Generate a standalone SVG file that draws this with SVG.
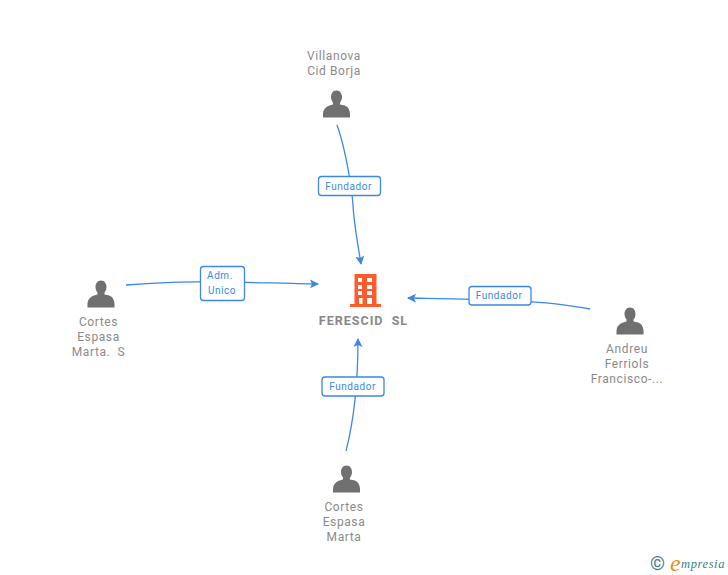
<svg xmlns="http://www.w3.org/2000/svg" width="728" height="575" viewBox="0 0 728 575">
<style>
text{font-family:Roboto,"Liberation Sans",sans-serif}
.n{font-size:12px;fill:#8a8a8a;text-anchor:middle;letter-spacing:.6px;white-space:pre}
.c{fill:none;stroke:#3d87e6;stroke-width:1.3}
.b{fill:#fff;stroke:#3d87e6;stroke-width:1.3}
.l{font-size:10px;fill:#3d87e6;text-anchor:middle;letter-spacing:.55px}
.p{fill:#707070}
.s{font-family:"Liberation Serif",serif;font-style:italic}
</style>
<defs>
<marker id="a" markerWidth="10" markerHeight="10" refX="8" refY="4.500" orient="auto" markerUnits="userSpaceOnUse"><path d="M0 0L9 4.500L0 9L2 4.500Z" fill="#3d87e6"/></marker>
<path id="u" d="M0-14.500C-4-14.500-5.500-11-5.500-8C-5.500-5.500-4.500-3.500-3.500-2.500L-3.500-.5C-6-0-13 1.500-13.500 8.500L-13.500 12.500L13.500 12.500L13.500 8.500C13-0 6-0 3.500-.5L3.500-2.500C4.500-3.500 5.500-5.500 5.500-8C5.500-11 4-14.500 0-14.500Z"/>
</defs>
<g id="connectors">
<path class="c" marker-end="url(#a)" d="M337 125C346 150 352 190 353 205C354 225 358 245 361 264"/>
<path class="c" marker-end="url(#a)" d="M126 285C190 279 250 283 318 284"/>
<path class="c" marker-end="url(#a)" d="M590 309C540 299 470 299 408 298"/>
<path class="c" marker-end="url(#a)" d="M346 451C354 420 358 385 358 339"/>
</g>
<g id="label-top"><rect class="b" x="318.500" y="176.500" width="62" height="19" rx="3"/><text class="l" x="348.500" y="190">Fundador</text></g>
<g id="label-left"><rect class="b" x="200.500" y="266.500" width="44" height="34" rx="3"/><text class="l" x="220" y="279">Adm.</text><text class="l" x="222" y="294">Unico</text></g>
<g id="label-right"><rect class="b" x="469" y="286.500" width="62" height="18.500" rx="3"/><text class="l" x="499" y="299">Fundador</text></g>
<g id="label-bottom"><rect class="b" x="322" y="377" width="62" height="19" rx="3"/><text class="l" x="352.500" y="390">Fundador</text></g>
<g id="node-villanova"><text class="n" x="334" y="60">Villanova</text><text class="n" x="334" y="75">Cid Borja</text><use href="#u" class="p" x="336.500" y="105"/></g>
<g id="node-cortes-s"><use href="#u" class="p" x="101" y="295"/><text class="n" x="98.500" y="326">Cortes</text><text class="n" x="98.500" y="341">Espasa</text><text class="n" x="98.500" y="356">Marta.  S</text></g>
<g id="node-andreu"><use href="#u" class="p" x="630" y="322"/><text class="n" x="627" y="353">Andreu</text><text class="n" x="627" y="368">Ferriols</text><text class="n" x="627" y="383">Francisco-...</text></g>
<g id="node-cortes"><use href="#u" class="p" x="346.500" y="480"/><text class="n" x="344" y="511">Cortes</text><text class="n" x="344" y="526">Espasa</text><text class="n" x="344" y="541">Marta</text></g>
<g id="node-ferescid">
<path fill="#ff5a2b" fill-rule="evenodd" d="M354.500 274H376.500V304H381V307H350V304H354.500ZM358 278V282H362V278ZM367 278V282H372V278ZM358 285V289H362V285ZM367 285V289H372V285ZM358 291V295H362V291ZM367 291V295H372V291ZM359 298V304H362.500V298ZM367 298V304H372V298Z"/>
<text x="363.500" y="324.500" font-size="12.500" font-weight="700" fill="#888" text-anchor="middle" letter-spacing="1" style="white-space:pre">FERESCID  SL</text>
</g>
<g id="copyright">
<text x="657.500" y="570" font-size="19" fill="#3b7a8c" text-anchor="middle">©</text>
<text class="s" x="670" y="571" font-size="24" fill="#f08a1c">e</text>
<text class="s" x="681" y="568" font-size="12.500" fill="#2f7f8f" letter-spacing=".6">mpresia</text>
</g>
</svg>
